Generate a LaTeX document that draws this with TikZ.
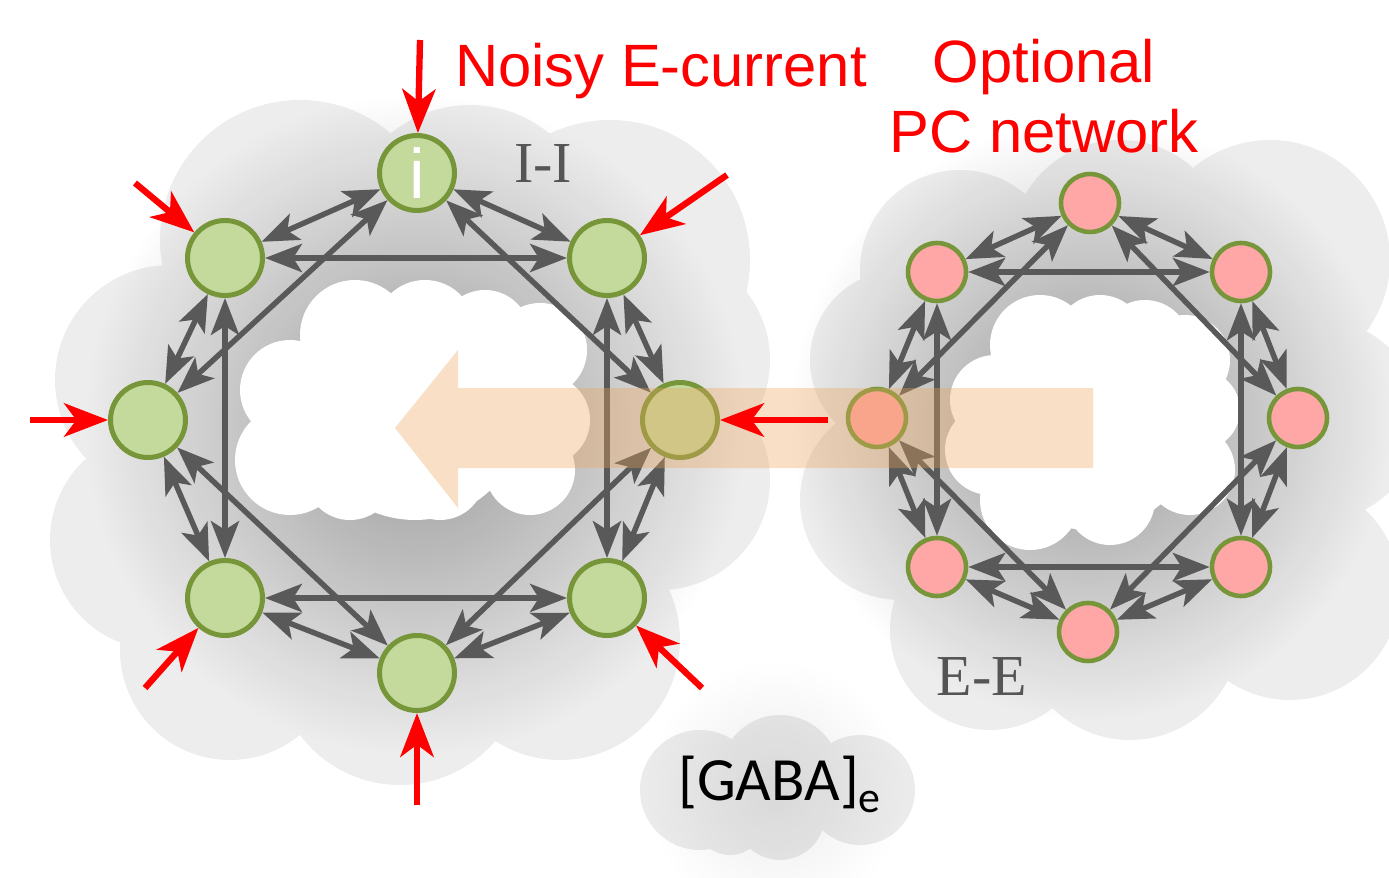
\documentclass[tikz,border=0pt]{standalone}
\usepackage{fontspec}
\setmainfont{Liberation Serif}
\newfontfamily\arialf{Liberation Sans}
\newfontfamily\calibrif{Carlito}
\usetikzlibrary{arrows.meta,fadings}
\definecolor{inhfill}{HTML}{C4D99C}
\definecolor{excfill}{HTML}{FFA6A6}
\definecolor{ringgreen}{HTML}{77963A}
\definecolor{syngray}{HTML}{595959}
\definecolor{labgray}{HTML}{555555}
\definecolor{bandorange}{RGB}{235,164,92}
\definecolor{noisered}{HTML}{FF0000}
\tikzfading[name=fuzzy, inner color=transparent!0, outer color=transparent!100]
\tikzset{
  inode/.style={circle, draw=ringgreen, fill=inhfill, line width=2.85pt, minimum size=1.5cm, inner sep=0pt},
  enode/.style={circle, draw=ringgreen, fill=excfill, line width=2.6pt, minimum size=1.16cm, inner sep=0pt},
  syn/.style={draw=syngray, line width=3.1pt, {Stealth[length=21pt,width=16pt,inset=5pt]}-{Stealth[length=21pt,width=16pt,inset=5pt]}},
  noise/.style={draw=noisered, line width=3.6pt, -{Stealth[length=25pt,width=19pt,inset=7pt]}},
  redlabel/.style={text=noisered, font=\arialf\fontsize{34}{40}\selectfont},
  graylabel/.style={text=labgray, font=\fontsize{33}{40}\selectfont},
}
\begin{document}
\begin{tikzpicture}[x=0.02cm, y=-0.02cm]
  \useasboundingbox (0,0) rectangle (1389,878);
  % gray clouds
  \fill[black!7] (300,240) circle (140) (470,230) circle (125) (610,260) circle (140)
     (170,380) circle (115) (160,540) circle (110) (230,650) circle (110)
     (400,660) circle (125) (560,640) circle (120) (660,480) circle (110)
     (660,360) circle (110) (420,430) circle (260);
  \fill[black!7] (1090,420) circle (230) (960,270) circle (100) (1120,250) circle (110)
     (1270,260) circle (120) (1320,420) circle (100) (1290,590) circle (110)
     (1130,630) circle (110) (990,630) circle (100) (900,500) circle (100) (900,360) circle (90);
  \fill[black!8] (700,790) circle (60) (780,775) circle (60) (860,790) circle (55)
     (780,815) circle (45) (730,820) circle (35);
  \fill[black, opacity=0.35, path fading=fuzzy] (415,425) circle (330);
  \fill[black, opacity=0.35, path fading=fuzzy] (1090,420) circle (300);
  \fill[black, opacity=0.08, path fading=fuzzy] (775,790) circle (130);
  % white holes
  \fill[white] (415,410) circle (110) (355,335) circle (55) (425,330) circle (50)
     (485,335) circle (45) (540,350) circle (47) (290,390) circle (50) (290,460) circle (55)
     (545,420) circle (45) (530,470) circle (45) (350,475) circle (45) (440,475) circle (45);
  \fill[white] (1090,420) circle (110) (1040,345) circle (50) (1100,340) circle (45)
     (1145,345) circle (45) (1185,360) circle (45) (995,400) circle (45) (990,450) circle (45)
     (1200,410) circle (40) (1190,470) circle (45) (1030,500) circle (50) (1110,500) circle (45);
  % I-I ring
  \node[inode, text=white, font=\arialf\fontsize{40}{40}\selectfont] (i1) at (417,173) {\raisebox{-2pt}{i}};
  \foreach \n/\x/\y in {2/607/258, 3/680/420, 4/607/598, 5/417/673, 6/225/598, 7/148/420, 8/225/258}
    \node[inode] (i\n) at (\x,\y) {};
  % E-E ring
  \foreach \n/\x/\y in {1/1090/203, 2/1241/272, 3/1298/418, 4/1241/567, 5/1088/632, 6/937/567, 7/877/418, 8/937/272}
    \node[enode] (e\n) at (\x,\y) {};
  \foreach \a/\b in {1/2,2/3,3/4,4/5,5/6,6/7,7/8,8/1,1/3,3/5,5/7,7/1,2/4,4/6,6/8,8/2}{
    \draw[syn] (i\a) -- (i\b);
    \draw[syn] (e\a) -- (e\b);
  }
  % PC -> interneuron drive
  \fill[bandorange, opacity=0.35] (1093,388) -- (458,388) -- (458,350) -- (395,428)
     -- (458,508) -- (458,468) -- (1093,468) -- cycle;
  % noisy input
  \foreach \k/\x/\y in {1/420/40, 2/727/175, 3/828/420, 4/702/688, 5/417/805, 6/145/688, 7/30/420, 8/135/183}{
    \coordinate (n\k) at (\x,\y);
    \draw[noise] (n\k) -- (i\k);
  }
  \node[redlabel, anchor=base] (noisy) at (661,87) {Noisy E-current};
  \node[redlabel, anchor=base, align=center] (pcnet) at (1044,153) {Optional\\PC network};
  \node[graylabel, anchor=base] (ii) at (543,183) {I-I};
  \node[graylabel, anchor=base] (ee) at (982,695) {E-E};
  \node[anchor=base west, font=\calibrif\fontsize{35}{40}\selectfont] (gaba) at (672,800)
     {[GABA]\raisebox{-7pt}{\fontsize{25}{25}\selectfont e}};
\end{tikzpicture}
\end{document}
